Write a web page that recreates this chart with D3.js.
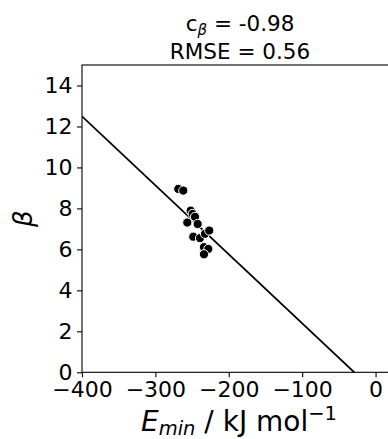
<!DOCTYPE html>
<html>
<head>
<meta charset="utf-8">
<script src="https://cdn.jsdelivr.net/npm/d3@7"></script>
<style>
  body { margin: 0; background: #fff; }
  svg { display: block; font-family: "DejaVu Sans", sans-serif; }
  .axis text { font-family: "DejaVu Sans", sans-serif; font-size: 22px; fill: #000; }
  .axis path, .axis line { stroke: #000; stroke-width: 1.1px; }
</style>
</head>
<body>
<div id="chart"></div>
<script>
// E_min (kJ/mol) and beta values
const eMin = [-268.8, -262, -251.9, -249.2, -246, -256.5, -242.4, -248.4, -239.2, -232.4, -226.6, -233.8, -227.9, -233.8];
const beta = [8.95, 8.87, 7.89, 7.73, 7.59, 7.31, 7.24, 6.62, 6.55, 6.76, 6.92, 6.11, 6.02, 5.76];
// fitted line beta = slope * E + intercept
const fitSlope = -0.03367;
const fitIntercept = -0.976;
const xTicks = [-400, -300, -200, -100, 0];
const yTicks = [0, 2, 4, 6, 8, 10, 12, 14];
const titleLines = ['c', 'RMSE = 0.56'];

let margin = { top: 65, left: 82 };
let [w, h] = [316, 307.3];

let svg = d3.select('#chart').append('svg')
    .attr('width', 388)
    .attr('height', 439);

let x = d3.scaleLinear().domain([-400, 30.6]).range([0, w]);
let y = d3.scaleLinear().domain([0, 15]).range([h, 0]);

let g = svg.append('g')
    .attr('transform', `translate(${margin.left},${margin.top})`);

svg.append('defs').append('clipPath')
    .attr('id', 'clip')
    .append('rect')
    .attr('width', w)
    .attr('height', h);

// fit line
let line = d3.line()
    .x(d => x(d))
    .y(d => y(fitSlope * d + fitIntercept));

g.append('path')
    .datum(x.domain())
    .attr('clip-path', 'url(#clip)')
    .attr('fill', 'none')
    .attr('stroke', '#000')
    .attr('stroke-width', 1.8)
    .attr('d', line);

// points
g.append('g')
    .selectAll('circle')
    .data(d3.range(eMin.length))
    .join('circle')
    .attr('cx', i => x(eMin[i]))
    .attr('cy', i => y(beta[i]))
    .attr('r', 4.6)
    .attr('fill', '#000')
    .attr('stroke', '#fff')
    .attr('stroke-width', 1);

// frame
g.append('rect')
    .attr('width', w)
    .attr('height', h)
    .attr('fill', 'none')
    .attr('stroke', '#000')
    .attr('stroke-width', 1.1);

let fmt = d => d3.format('d')(d).replace('-', '\u2212');

g.append('g')
    .attr('class', 'axis')
    .attr('transform', `translate(0,${h})`)
    .call(d3.axisBottom(x).tickValues(xTicks).tickFormat(fmt).tickSize(5).tickSizeOuter(0).tickPadding(4.5))
    .call(a => a.select('.domain').remove());

g.append('g')
    .attr('class', 'axis')
    .call(d3.axisLeft(y).tickValues(yTicks).tickFormat(fmt).tickSize(5).tickSizeOuter(0).tickPadding(4.5))
    .call(a => a.select('.domain').remove());

// title
let cx = margin.left + w / 2;
let t1 = svg.append('text')
    .attr('x', cx)
    .attr('y', 31)
    .attr('text-anchor', 'middle')
    .style('font-size', '21.5px');
t1.append('tspan').text(titleLines[0]);
t1.append('tspan').attr('font-style', 'italic').attr('font-size', '15px').attr('dy', 4).text('β');
t1.append('tspan').attr('dy', -4).text(' = -0.98');

svg.append('text')
    .attr('x', cx)
    .attr('y', 59)
    .attr('text-anchor', 'middle')
    .style('font-size', '21.5px')
    .text(titleLines[1]);

// x label
let xl = svg.append('text')
    .attr('x', cx - 1)
    .attr('y', 431)
    .attr('text-anchor', 'middle')
    .style('font-size', '28px');
xl.append('tspan').attr('font-style', 'italic').text('E');
xl.append('tspan').attr('font-style', 'italic').attr('font-size', '19.5px').attr('dy', 4).text('min');
xl.append('tspan').attr('dy', -4).text(' / kJ mol');
xl.append('tspan').attr('font-size', '19.5px').attr('dy', -11).text('\u22121');

// y label
svg.append('text')
    .attr('transform', `translate(32,${margin.top + h / 2}) rotate(-90)`)
    .attr('text-anchor', 'middle')
    .attr('font-style', 'italic')
    .style('font-size', '26px')
    .text('β');
</script>
</body>
</html>
